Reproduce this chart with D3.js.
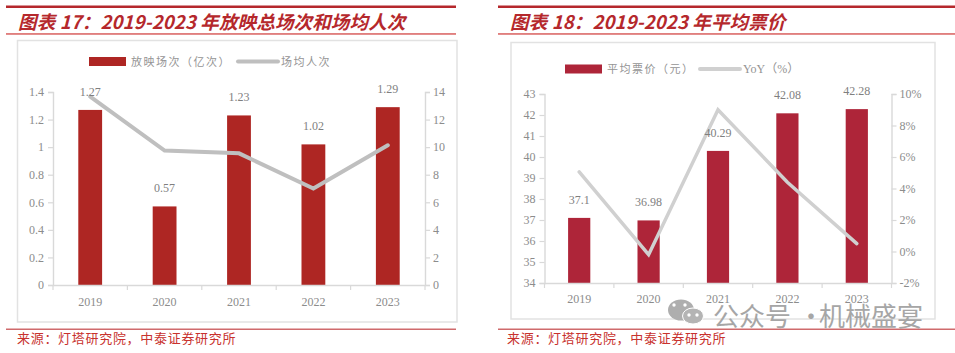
<!DOCTYPE html>
<html><head><meta charset="utf-8">
<script src="https://cdnjs.cloudflare.com/ajax/libs/d3/7.8.5/d3.min.js"></script>
<style>html,body{margin:0;padding:0;background:#fff}svg{display:block}</style></head>
<body><svg id="c" width="955" height="353"></svg>
<script>
const years=["2019","2020","2021","2022","2023"];
const screenings=[1.27,0.57,1.23,1.02,1.29];
const attendance=[13.66,9.75,9.55,7.0,10.13];
const screeningTicks=[0,0.2,0.4,0.6,0.8,1,1.2,1.4];
const attendanceTicks=[0,2,4,6,8,10,12,14];
const price=[37.1,36.98,40.29,42.08,42.28];
const priceLabels=["37.1","36.98","40.29","42.08","42.28"];
const yoy=[5.05,-0.2,9.0,4.4,0.5];
const priceTicks=[34,35,36,37,38,39,40,41,42,43];
const yoyTicks=[-2,0,2,4,6,8,10];
const titleL="图表 17\uFF1A2019-2023 年放映总场次和场均人次";
const titleR="图表 18\uFF1A2019-2023 年平均票价";
const source="来源\uFF1A灯塔研究院\uFF0C中泰证券研究所";
const nameScreenings="放映场次\uFF08亿次\uFF09";
const nameAttendance="场均人次";
const namePrice="平均票价\uFF08元\uFF09";
const nameYoy="YoY\uFF08%\uFF09";

const svg=d3.select("#c");
const SERIF="'Liberation Serif',serif", CJK="'Noto Sans CJK SC',sans-serif";
const TICK="#8c8c8c", AXIS="#d9d9d9", RULE="#b5282c";

function panel(o){
  const g=svg.append("g");
  g.append("rect").attr("x",o.rx0).attr("y",5.5).attr("width",o.rx1-o.rx0).attr("height",2.5).attr("fill",RULE);
  g.append("rect").attr("x",o.rx0).attr("y",33.2).attr("width",o.rx1-o.rx0).attr("height",1.5).attr("fill","#d9605f");
  g.append("rect").attr("x",o.rx0).attr("y",o.botRule).attr("width",o.rx1-o.rx0).attr("height",1.5).attr("fill","#cf6a6c");
  g.append("text").attr("x",o.tx).attr("y",28.5).text(o.title)
    .attr("font-family",CJK).attr("font-weight",700).attr("font-style","italic").attr("font-size",o.tfs).attr("letter-spacing",0.15).attr("fill",RULE);
  g.append("text").attr("x",o.sx).attr("y",343).text(source)
    .attr("font-family",CJK).attr("font-size",13).attr("letter-spacing",0.7).attr("fill","#c8322e");
  g.append("rect").attr("x",o.f[0]).attr("y",o.f[1]).attr("width",o.f[2]-o.f[0]).attr("height",o.f[3]-o.f[1])
    .attr("fill","#fff").attr("stroke","#e2e2e2").attr("stroke-width",1.5);

  const x=d3.scaleBand().domain(years).range([o.px0,o.px1]).paddingInner(0.68).paddingOuter(0.34);
  const xOuter=d3.scaleBand().domain(years).range([o.px0,o.px1]);
  const yL=d3.scaleLinear().domain(o.ldom).range([o.py1,o.py0]);
  const yR=d3.scaleLinear().domain(o.rdom).range([o.py1,o.py0]);

  function style(a){
    a.selectAll("path").attr("stroke",AXIS).attr("stroke-width",1.4);
    a.selectAll("line").attr("stroke",AXIS).attr("stroke-width",1.2);
    a.selectAll("text").attr("font-family",SERIF).attr("font-size",12).attr("fill",TICK);
  }
  const aL=g.append("g").attr("transform",`translate(${o.px0},0)`)
    .call(d3.axisLeft(yL).tickValues(o.lticks).tickSize(5).tickPadding(4).tickFormat(d=>String(d)));
  style(aL);
  const aR=g.append("g").attr("transform",`translate(${o.px1},0)`)
    .call(d3.axisRight(yR).tickValues(o.rticks).tickSize(5).tickPadding(3).tickFormat(o.rfmt));
  style(aR);

  g.selectAll(".bar").data(o.bars).join("rect")
    .attr("x",(d,i)=>x(years[i])).attr("width",x.bandwidth())
    .attr("y",d=>yL(d)).attr("height",d=>o.py1-yL(d)).attr("fill",o.barColor);

  const aX=g.append("g").attr("transform",`translate(0,${o.py1})`)
    .call(d3.axisBottom(xOuter).tickSize(0).tickPadding(o.xpad));
  style(aX);
  g.selectAll(".xt").data(years.concat(["end"])).join("line")
    .attr("x1",(d,i)=>o.px0+i*xOuter.step()).attr("x2",(d,i)=>o.px0+i*xOuter.step())
    .attr("y1",o.py1).attr("y2",o.py1+5).attr("stroke",AXIS).attr("stroke-width",1.2);

  g.append("path").datum(o.line)
    .attr("d",d3.line().x((d,i)=>xOuter(years[i])+xOuter.bandwidth()/2).y(d=>yR(d)))
    .attr("fill","none").attr("stroke",o.lineColor).attr("stroke-width",o.lw).attr("stroke-linecap","round");

  g.selectAll(".lab").data(o.labels).join("text")
    .attr("x",(d,i)=>xOuter(years[i])+xOuter.bandwidth()/2)
    .attr("y",(d,i)=>yL(o.bars[i])-14).attr("text-anchor","middle")
    .attr("font-family",SERIF).attr("font-size",12).attr("fill","#7f7f7f").text(d=>d);

  const lg=g.append("g");
  lg.append("rect").attr("x",o.lg[0]).attr("y",o.lg[1]-4.5).attr("width",o.lg[2]).attr("height",9).attr("fill",o.barColor);
  lg.append("text").attr("x",o.lg[3]).attr("y",o.lg[1]+4).text(o.name1)
    .attr("font-family",CJK).attr("font-size",11).attr("letter-spacing",1.5).attr("fill","#949494");
  lg.append("line").attr("x1",o.lg[4]).attr("x2",o.lg[4]+40).attr("y1",o.lg[1]).attr("y2",o.lg[1])
    .attr("stroke",o.lineColor).attr("stroke-width",4).attr("stroke-linecap","round");
  lg.append("text").attr("x",o.lg[5]).attr("y",o.lg[1]+4).text(o.name2)
    .attr("font-family",o.name2font).attr("font-size",o.name2size).attr("letter-spacing",o.name2ls).attr("fill","#949494");
}

panel({rx0:6,rx1:456,botRule:328.5,tx:18,tfs:18.5,sx:17,title:titleL,f:[17.5,40.5,457,322],
  px0:53,px1:425,py0:92,py1:285,ldom:[0,1.4],rdom:[0,14],lticks:screeningTicks,rticks:attendanceTicks,
  rfmt:d=>String(d),bars:screenings,line:attendance,labels:screenings.map(String),barColor:"#ae2623",lineColor:"#bfbfbf",lw:4,
  lg:[89,61.5,37,131,238,281],name1:nameScreenings,name2:nameAttendance,name2font:CJK,name2size:11,name2ls:1.5,xpad:12});

panel({rx0:498,rx1:955,botRule:328.5,tx:510,tfs:18.5,sx:507,title:titleR,f:[511,42.5,935,319],
  px0:544.5,px1:891.5,py0:94,py1:283,ldom:[34,43],rdom:[-2,10],lticks:priceTicks,rticks:yoyTicks,
  rfmt:d=>d+"%",bars:price,line:yoy,labels:priceLabels,barColor:"#ae2539",lineColor:"#d0d0d0",lw:3.5,
  lg:[565,69,37,607,700,743],name1:namePrice,name2:nameYoy,name2font:SERIF+",'Noto Sans CJK SC'",name2size:12,name2ls:0,xpad:11});

// watermark
const wm=svg.append("g");
wm.append("ellipse").attr("cx",681).attr("cy",310).attr("rx",13).attr("ry",10.5).attr("fill","#aeaeae");
wm.append("ellipse").attr("cx",693).attr("cy",316).attr("rx",10.5).attr("ry",8).attr("fill","#b4b4b4").attr("stroke","#fff").attr("stroke-width",1);
wm.selectAll("circle").data([[674,305],[685,305],[689,315],[697,315]]).join("circle")
  .attr("cx",d=>d[0]).attr("cy",d=>d[1]).attr("r",1.7).attr("fill","#fff");
const wt=wm.append("text").attr("y",326).attr("font-family",CJK).attr("font-size",26).attr("fill","#a6a6a6");
wt.append("tspan").attr("x",713).text("公众号");
wt.append("tspan").attr("x",798).text("·");
wt.append("tspan").attr("x",819).text("机械盛宴");
</script></body></html>
